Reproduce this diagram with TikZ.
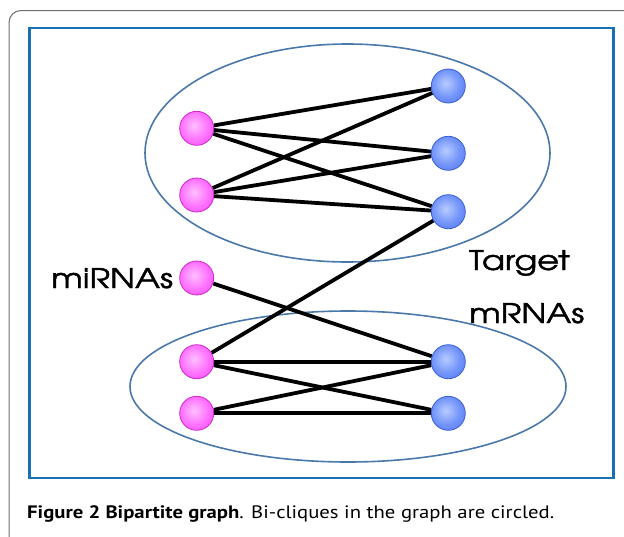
\documentclass[tikz,border=0pt]{standalone}
\usepackage{fontspec}
\newfontfamily\gothic[FakeStretch=1.25,FakeBold=1.6]{TeX Gyre Adventor}
\newfontfamily\capfont[FakeStretch=1.15]{PT Sans}
\usetikzlibrary{backgrounds}
\definecolor{cardgray}{RGB}{110,110,110}
\definecolor{framblue}{RGB}{24,112,178}
\definecolor{ellblue}{RGB}{74,120,170}
\definecolor{pinkedge}{RGB}{205,40,205}
\definecolor{blueedge}{RGB}{55,95,215}
\pgfdeclareradialshading{pinkball}{\pgfpoint{-4bp}{4bp}}{rgb(0bp)=(1,0.75,1); rgb(20bp)=(1,0.45,1); rgb(45bp)=(0.93,0.2,0.93); rgb(100bp)=(0.93,0.2,0.93)}
\pgfdeclareradialshading{blueball}{\pgfpoint{-4bp}{4bp}}{rgb(0bp)=(0.72,0.8,1); rgb(20bp)=(0.45,0.58,0.98); rgb(45bp)=(0.28,0.42,0.92); rgb(100bp)=(0.28,0.42,0.92)}
\tikzset{
  mirna/.style={circle, minimum size=34pt, inner sep=0pt, shading=pinkball, draw=pinkedge, line width=0.8pt},
  target/.style={circle, minimum size=34pt, inner sep=0pt, shading=blueball, draw=blueedge, line width=0.8pt},
  edge/.style={line width=3.8pt, black},
  clique/.style={draw=ellblue, line width=1.6pt},
  biglabel/.style={font=\gothic\fontsize{27}{30}\selectfont, inner sep=0pt, anchor=base west}
}
\begin{document}
\begin{tikzpicture}[x=1pt,y=-1pt]
\useasboundingbox (0,0) rectangle (624,536);
% card outline
\draw[cardgray, line width=1pt, rounded corners=12pt] (630,10.5) -- (9,10.5) -- (9,540);
% frame
\draw[framblue, line width=2.7pt] (29.5,28) rectangle (613.5,478);
% nodes
\node[mirna] (m1) at (196.7,128.3) {};
\node[mirna] (m2) at (196.7,195) {};
\node[mirna] (m3) at (196.7,278) {};
\node[mirna] (m4) at (196.7,361.7) {};
\node[mirna] (m5) at (196.7,413.3) {};
\node[target] (t1) at (448.3,86) {};
\node[target] (t2) at (448.3,153.3) {};
\node[target] (t3) at (448.3,211.7) {};
\node[target] (t4) at (448.3,361.7) {};
\node[target] (t5) at (448.3,413.3) {};
\begin{pgfonlayer}{background}
\draw[clique] (347.5,153) ellipse [x radius=202.5, y radius=109];
\draw[clique] (348,386.5) ellipse [x radius=218, y radius=75.5];
\draw[edge] (m1) -- (t1);
\draw[edge] (m1) -- (t2);
\draw[edge] (m1) -- (t3);
\draw[edge] (m2) -- (t1);
\draw[edge] (m2) -- (t2);
\draw[edge] (m2) -- (t3);
\draw[edge] (t3) -- (m4);
\draw[edge] (m3) -- (t4);
\draw[edge] (m4) -- (t4);
\draw[edge] (m4) -- (t5);
\draw[edge] (m5) -- (t4);
\draw[edge] (m5) -- (t5);
\end{pgfonlayer}
% labels
\node[biglabel] (lmi) at (51,288) {miRNAs};
\node[biglabel] (ltg) at (469,270) {Target};
\node[biglabel] (lmr) at (469,323) {mRNAs};
% caption
\node[font=\capfont\fontsize{18}{20}\selectfont, inner sep=0pt, anchor=base west] (cap) at (27,518)
  {\textbf{Figure 2 Bipartite graph}. Bi-cliques in the graph are circled.};
\end{tikzpicture}
\end{document}
